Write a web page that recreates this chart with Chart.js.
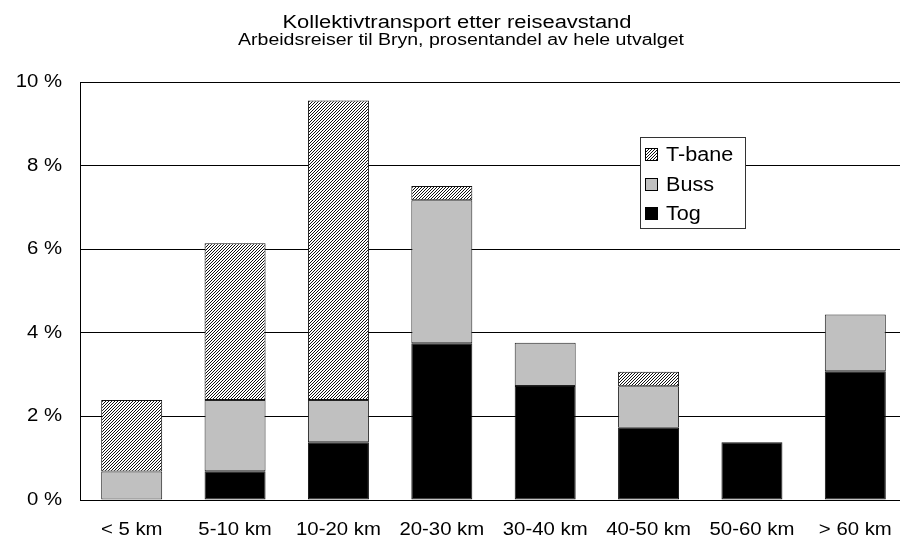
<!DOCTYPE html>
<html>
<head>
<meta charset="utf-8">
<script src="https://cdn.jsdelivr.net/npm/chart.js@4/dist/chart.umd.min.js"></script>
<style>
html,body{margin:0;padding:0;background:#fff;overflow:hidden;}
#wrap{width:930px;height:540px;position:relative;}
</style>
</head>
<body>
<div id="wrap"><canvas id="c" width="930" height="540"></canvas></div>
<script>
const categories = ['< 5 km','5-10 km','10-20 km','20-30 km','30-40 km','40-50 km','50-60 km','> 60 km'];
const tog   = [0, 0.69, 1.38, 3.75, 2.73, 1.73, 1.38, 3.08];
const buss  = [0.68, 1.70, 1.01, 3.42, 1.03, 0.99, 0, 1.36];
const tbane = [1.71, 3.75, 7.17, 0.34, 0, 0.35, 0, 0];
const yTicks = [0, 2, 4, 6, 8, 10];
const titleText = 'Kollektivtransport etter reiseavstand';
const subtitleText = 'Arbeidsreiser til Bryn, prosentandel av hele utvalget';

const canvas = document.getElementById('c');
const ctx0 = canvas.getContext('2d');
// horizontally widened text, as in the reference
const origFillText = CanvasRenderingContext2D.prototype.fillText;
ctx0.__sx = 1.13;
ctx0.fillText = function(t, x, y, mw){
  const sx = this.__sx || 1;
  if (sx === 1) return mw === undefined ? origFillText.call(this, t, x, y) : origFillText.call(this, t, x, y, mw);
  this.save();
  this.translate(x, y);
  this.scale(sx, 1);
  if (mw === undefined) origFillText.call(this, t, 0, 0); else origFillText.call(this, t, 0, 0, mw / sx);
  this.restore();
};

function hatch(){
  const t = document.createElement('canvas');
  t.width = 3; t.height = 3;
  const g = t.getContext('2d');
  g.fillStyle = '#fff'; g.fillRect(0,0,3,3);
  for (let x=0;x<3;x++) for (let y=0;y<3;y++) {
    if ((x+y)%3===2) { g.fillStyle = '#111'; g.fillRect(x,y,1,1); }
  }
  return ctx0.createPattern(t,'repeat');
}
const hatchPat = hatch();
const FONT = '"Liberation Sans", Arial, sans-serif';

const seriesDefs = [
  {label:'T-bane', fill: hatchPat},
  {label:'Buss', fill: '#c0c0c0'},
  {label:'Tog', fill: '#000000'}
];

const titlesAndLegend = {
  id:'titlesAndLegend',
  afterDraw(chart){
    const ctx = chart.ctx;
    ctx.save();
    ctx.fillStyle = '#000';
    ctx.textAlign = 'center';
    ctx.textBaseline = 'alphabetic';
    ctx.__sx = 1.22;
    ctx.font = '18px ' + FONT;
    ctx.fillText(titleText, 457, 28);
    ctx.font = '16px ' + FONT;
    ctx.fillText(subtitleText, 461, 45);
    // legend box
    const lx = 640.5, ly = 137.5, lw = 105, lh = 91;
    ctx.fillStyle = '#fff';
    ctx.fillRect(lx, ly, lw, lh);
    ctx.strokeStyle = '#333';
    ctx.lineWidth = 1;
    ctx.strokeRect(lx, ly, lw, lh);
    const rows = [161, 191, 220];
    ctx.textAlign = 'left';
    ctx.__sx = 1.08;
    ctx.font = '20px ' + FONT;
    seriesDefs.forEach((s,i)=>{
      const by = rows[i];
      ctx.fillStyle = s.fill;
      ctx.fillRect(645.5, by-12.5, 12, 12);
      ctx.strokeStyle = '#000';
      ctx.strokeRect(645.5, by-12.5, 12, 12);
      ctx.fillStyle = '#000';
      ctx.fillText(s.label, 666, by);
    });
    ctx.__sx = 1.13;
    ctx.restore();
  }
};

new Chart(canvas, {
  type:'bar',
  data:{
    labels: categories,
    datasets:[
      {label:'Tog', data: tog, backgroundColor:'#000', borderColor:'#111', borderWidth:1, borderSkipped:false},
      {label:'Buss', data: buss, backgroundColor:'#c0c0c0', borderColor:'#222', borderWidth:1, borderSkipped:false},
      {label:'T-bane', data: tbane, backgroundColor: hatchPat, borderColor:'#111', borderWidth:1, borderSkipped:false}
    ]
  },
  options:{
    responsive:false,
    animation:false,
    devicePixelRatio:1,
    layout:{padding:{top:82, right:23, left:0, bottom:0}},
    datasets:{bar:{categoryPercentage:1.0, barPercentage:0.59}},
    plugins:{legend:{display:false}, title:{display:false}, tooltip:{enabled:false}},
    scales:{
      x:{
        stacked:true,
        grid:{display:false, drawTicks:false},
        border:{color:'#000', width:1},
        ticks:{color:'#000', font:{family:FONT, size:18}, padding:19, maxRotation:0, autoSkip:false},
        afterFit(s){ s.height = 40; }
      },
      y:{
        stacked:true,
        min:0, max:10,
        afterBuildTicks(s){ s.ticks = yTicks.map(v=>({value:v})); },
        grid:{color:'#000', lineWidth:1, drawTicks:false},
        border:{color:'#000', width:1},
        ticks:{color:'#000', font:{family:FONT, size:18}, padding:18, callback:v=>v+' %'},
        afterFit(s){ s.width = 80; }
      }
    }
  },
  plugins:[titlesAndLegend]
});
</script>
</body>
</html>
